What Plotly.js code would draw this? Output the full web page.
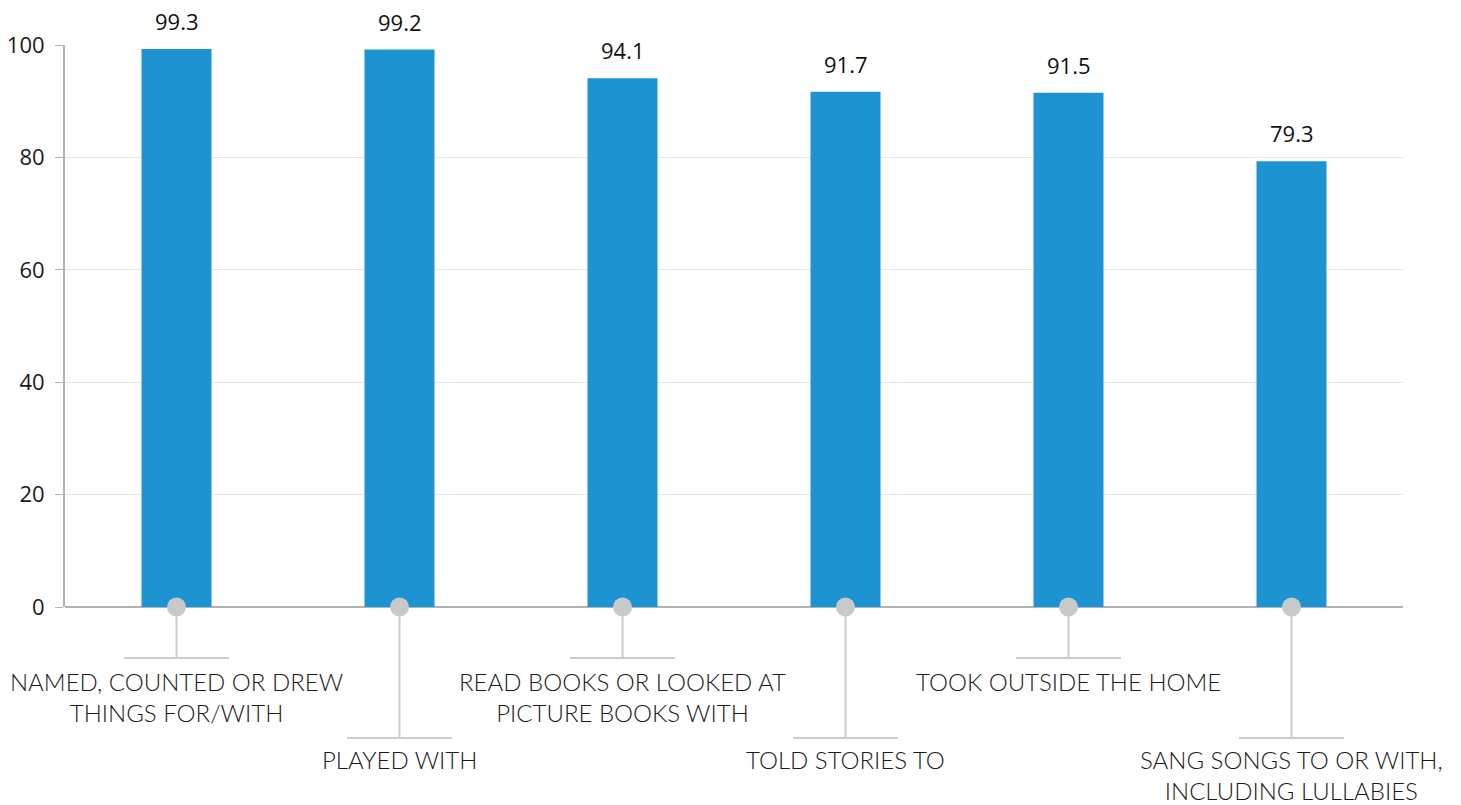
<!DOCTYPE html>
<html>
<head>
<meta charset="utf-8">
<script src="https://cdn.plot.ly/plotly-3.0.1.min.js"></script>
<style>html,body{margin:0;padding:0;background:#fff;}#chart{width:1461px;height:805px;}</style>
</head>
<body>
<div id="chart"></div>
<script>
const categories = [
  "NAMED, COUNTED OR DREW<br>THINGS FOR/WITH",
  "PLAYED WITH",
  "READ BOOKS OR LOOKED AT<br>PICTURE BOOKS WITH",
  "TOLD STORIES TO",
  "TOOK OUTSIDE THE HOME",
  "SANG SONGS TO OR WITH,<br>INCLUDING LULLABIES"
];
const values = [99.3, 99.2, 94.1, 91.7, 91.5, 79.3];
const labelLevel = [0, 1, 0, 1, 0, 1]; // 0 = short leader, 1 = long leader
const yTicks = [0, 20, 40, 60, 80, 100];

const plotH = 805 - 45 - 198;
const px = p => p / plotH; // pixels to paper units
const leaderEnd = [-px(51), -px(131)];
const halfBar = 0.235;

const shapes = [];
const annotations = [];
categories.forEach((c, i) => {
  const lv = labelLevel[i];
  shapes.push({type: 'line', xref: 'x', yref: 'paper', x0: i, x1: i, y0: 0, y1: leaderEnd[lv],
    line: {color: '#cccccc', width: 2}, layer: 'below'});
  shapes.push({type: 'line', xref: 'x', yref: 'paper', x0: i - halfBar, x1: i + halfBar, y0: leaderEnd[lv], y1: leaderEnd[lv],
    line: {color: '#cccccc', width: 2}, layer: 'below'});
  annotations.push({xref: 'x', yref: 'paper', x: i, y: leaderEnd[lv], yanchor: 'top', xanchor: 'center',
    yshift: lv === 1 ? -5 : -7, showarrow: false, text: c, align: 'center',
    font: {family: 'Lato, "Noto Sans", sans-serif', size: 24, color: '#1a1a1a', weight: 300}});
  annotations.push({xref: 'x', yref: 'y', x: i, y: values[i], yanchor: 'bottom', xanchor: 'center',
    yshift: 11, showarrow: false, text: values[i].toFixed(1),
    font: {family: '"Open Sans", sans-serif', size: 22, color: '#111111'}});
});

const traces = [
  {type: 'bar', x: categories.map((c, i) => i), y: values, marker: {color: '#1e93d1'},
   hoverinfo: 'skip', width: 0.314},
  {type: 'scatter', mode: 'markers', x: categories.map((c, i) => i), y: categories.map(() => 0),
   cliponaxis: false, marker: {size: 19, color: '#c8c9cb'}, hoverinfo: 'skip'}
];

const layout = {
  width: 1461, height: 805,
  margin: {l: 65, r: 58, t: 45, b: 198},
  showlegend: false,
  paper_bgcolor: '#ffffff', plot_bgcolor: '#ffffff',
  xaxis: {range: [-0.5, 5.5], showticklabels: false, showgrid: false, zeroline: false,
    showline: false, ticks: '', fixedrange: true},
  yaxis: {range: [0, 100], tickvals: yTicks, ticktext: yTicks.map(String),
    showgrid: true, gridcolor: '#e6e6e6', gridwidth: 1,
    zeroline: true, zerolinecolor: '#b3b3b3', zerolinewidth: 2,
    showline: true, linecolor: '#b3b3b3', linewidth: 2,
    ticks: 'outside', ticklen: 8, tickcolor: '#b3b3b3', tickwidth: 1,
    tickfont: {family: '"Open Sans", sans-serif', size: 22, color: '#1a1a1a'},
    ticklabelstandoff: 6, fixedrange: true},
  shapes: shapes,
  annotations: annotations
};

Plotly.newPlot('chart', traces, layout, {displayModeBar: false, staticPlot: true});
</script>
</body>
</html>
